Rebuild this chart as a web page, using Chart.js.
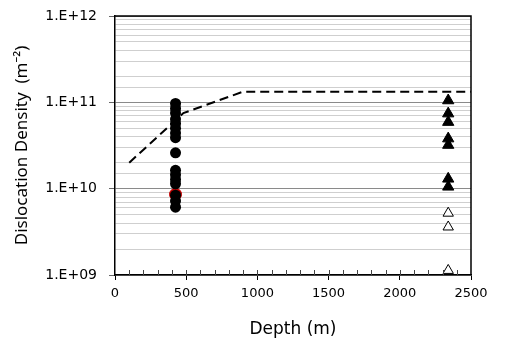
<!DOCTYPE html>
<html>
<head>
<meta charset="utf-8">
<script src="https://cdn.jsdelivr.net/npm/chart.js@4.4.0/dist/chart.umd.min.js"></script>
<style>
  html, body { margin: 0; padding: 0; background: #fff; }
  #wrap { width: 507px; height: 342px; }
</style>
</head>
<body>
<div id="wrap"><canvas id="myChart"></canvas></div>
<script>
// trend line (dashed)
var lineDepth = [100, 480, 900, 2500];
var lineDensity = [2.0e10, 7.5e10, 1.33e11, 1.33e11];

// shallow samples (filled circles)
var shallowDepth = 425;
var shallowDensity = [9.7e10, 8.5e10, 7.5e10, 6.4e10, 5.7e10, 5.0e10, 4.4e10, 3.9e10,
                      2.6e10, 1.63e10, 1.45e10, 1.28e10, 1.14e10, 8.4e9, 7.2e9, 6.1e9];
var redDensity = [8.6e9];

// deep samples (triangles)
var deepDepth = 2340;
var deepFilled = [1.05e11, 7.4e10, 5.9e10, 3.8e10, 3.2e10, 1.3e10, 1.05e10];
var deepOpen = [5.2e9, 3.6e9, 1.13e9];

var xTicks = [0, 500, 1000, 1500, 2000, 2500];

function pts(x, arr) {
    return arr.map(function (v) { return {x: x, y: v}; });
}
function isDecade(v) {
    var l = Math.log10(v);
    return Math.abs(l - Math.round(l)) < 1e-6;
}

var frame = {
    id: 'frame',
    afterDraw: function (chart) {
        var c = chart.ctx, a = chart.chartArea, xs = chart.scales.x;
        c.save();
        c.strokeStyle = '#000';
        c.lineWidth = 1.5;
        c.beginPath();
        c.moveTo(a.left, a.top);
        c.lineTo(a.right, a.top);
        c.lineTo(a.right, a.bottom);
        c.stroke();
        // minor ticks on x axis, inside
        c.lineWidth = 1;
        c.strokeStyle = '#444';
        for (var v = 100; v < 2500; v += 100) {
            var px = Math.round(xs.getPixelForValue(v)) + 0.5;
            c.beginPath();
            c.moveTo(px, a.bottom);
            c.lineTo(px, a.bottom - 5);
            c.stroke();
        }
        c.restore();
    }
};

var ctx = document.getElementById('myChart').getContext('2d');
var chart = new Chart(ctx, {
    type: 'scatter',
    data: {
        datasets: [{
            type: 'line',
            data: lineDepth.map(function (d, i) { return {x: d, y: lineDensity[i]}; }),
            borderColor: '#000',
            borderWidth: 2,
            borderDash: [9, 5],
            pointRadius: 0,
            fill: false,
            order: 0
        }, {
            data: pts(shallowDepth, redDensity),
            pointStyle: 'circle',
            pointRadius: 6,
            backgroundColor: '#c00000',
            borderColor: '#c00000',
            order: 3
        }, {
            data: pts(shallowDepth, shallowDensity),
            pointStyle: 'circle',
            pointRadius: 5.5,
            backgroundColor: '#000',
            borderColor: '#000',
            borderWidth: 0,
            order: 1
        }, {
            data: pts(deepDepth, deepFilled),
            pointStyle: 'triangle',
            pointRadius: 6.5,
            backgroundColor: '#000',
            borderColor: '#000',
            borderWidth: 1,
            order: 1
        }, {
            data: pts(deepDepth, deepOpen),
            pointStyle: 'triangle',
            pointRadius: 6,
            backgroundColor: '#fff',
            borderColor: '#000',
            borderWidth: 1,
            order: 1
        }]
    },
    options: {
        responsive: true,
        maintainAspectRatio: false,
        animation: false,
        layout: { padding: { left: 4, top: 16, right: 36, bottom: 0 } },
        plugins: { legend: { display: false }, tooltip: { enabled: false } },
        scales: {
            x: {
                type: 'linear',
                min: 0,
                max: 2500,
                afterBuildTicks: function (s) {
                    s.ticks = xTicks.map(function (v) { return {value: v}; });
                },
                afterFit: function (s) { s.height = 67; s.paddingLeft = 0; s.paddingRight = 0; },
                border: { color: '#000', width: 1.5 },
                grid: { drawOnChartArea: false, drawTicks: true, tickLength: 5, color: '#000' },
                ticks: {
                    color: '#000',
                    padding: 6,
                    font: { family: '"DejaVu Sans"', size: 13 },
                    callback: function (v) { return String(v); }
                },
                title: {
                    display: true,
                    text: 'Depth (m)',
                    color: '#000',
                    padding: { top: 2, bottom: 2 },
                    font: { family: '"DejaVu Sans"', size: 17 }
                }
            },
            y: {
                type: 'logarithmic',
                min: 1e9,
                max: 1e12,
                afterFit: function (s) { s.width = 111; s.paddingTop = 0; s.paddingBottom = 0; },
                border: { color: '#000', width: 1.5 },
                grid: {
                    color: function (c) {
                        if (!c.tick) return '#ccc';
                        return isDecade(c.tick.value) ? '#8a8a8a' : '#cfcfcf';
                    },
                    tickColor: function (c) {
                        return c.tick && isDecade(c.tick.value) ? '#666' : 'rgba(0,0,0,0)';
                    },
                    tickLength: 6,
                    lineWidth: 1
                },
                ticks: {
                    autoSkip: false,
                    color: '#000',
                    padding: 12,
                    font: { family: '"DejaVu Sans"', size: 14 },
                    callback: function (v) {
                        if (!isDecade(v)) return '';
                        var e = Math.round(Math.log10(v));
                        return '1.E+' + (e < 10 ? '0' + e : e);
                    }
                },
                title: {
                    display: true,
                    text: 'Dislocation Density  (m\u207B\u00B2)',
                    color: '#000',
                    padding: { top: 8, bottom: 0 },
                    font: { family: '"Noto Sans"', size: 17 }
                }
            }
        }
    },
    plugins: [frame]
});
</script>
</body>
</html>
